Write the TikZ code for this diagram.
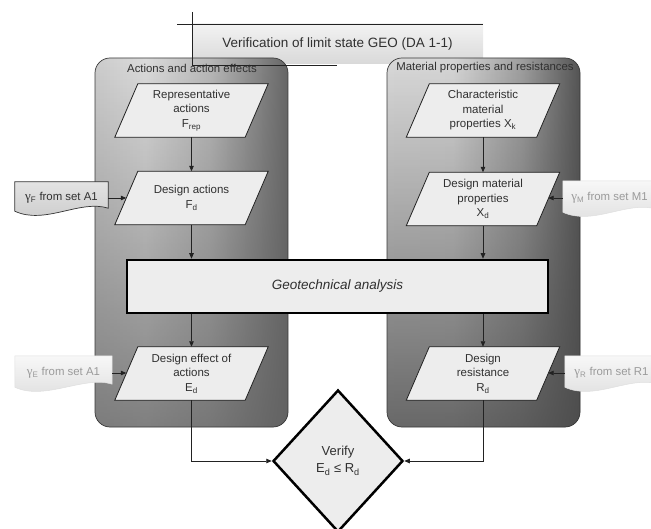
\documentclass[tikz,border=0pt]{standalone}
\usepackage{fontspec}
\setmainfont{Liberation Sans}
\newfontfamily\gfont{Liberation Serif}
\usetikzlibrary{shapes.geometric,arrows.meta,fadings,calc}
\pgfdeclarelayer{bg}\pgfdeclarelayer{mid}\pgfsetlayers{bg,mid,main}
\definecolor{txt}{HTML}{303030}
\definecolor{lnc}{HTML}{222222}
\definecolor{boxfill}{HTML}{EDEDED}
\definecolor{ghosttxt}{HTML}{9A9A9A}
\definecolor{lp0}{gray}{0.80}\definecolor{lp1}{gray}{0.86}\definecolor{lp2}{gray}{0.72}\definecolor{lp3}{gray}{0.40}
\definecolor{rp0}{gray}{0.85}\definecolor{rp1}{gray}{0.84}\definecolor{rp2}{gray}{0.62}\definecolor{rp3}{gray}{0.33}
\definecolor{lovl}{gray}{0.38}\definecolor{rovl}{gray}{0.30}
\pgfdeclarehorizontalshading{lpshade}{100bp}{color(0bp)=(lp0); color(25bp)=(lp0); color(38bp)=(lp1); color(55bp)=(lp2); color(75bp)=(lp3); color(100bp)=(lp3)}
\pgfdeclarehorizontalshading{rpshade}{100bp}{color(0bp)=(rp0); color(25bp)=(rp0); color(42bp)=(rp1); color(60bp)=(rp2); color(75bp)=(rp3); color(100bp)=(rp3)}
\tikzfading[name=downdark, top color=transparent!100, bottom color=transparent!0]
\tikzset{
  para/.style={minimum width=130pt, minimum height=53pt, inner sep=1pt, align=center, text=txt, font=\fontsize{11.5}{14.5}\selectfont},
  parashape/.style={draw=lnc, line width=0.8pt, fill=boxfill},
  arr/.style={draw=lnc, line width=0.8pt, -{Triangle[length=5.5pt,width=4.5pt]}},
  docnode/.style={minimum height=34pt, inner sep=0pt, font=\fontsize{11.4}{13}\selectfont},
  docdark/.style={draw=gray!40!black, line width=0.7pt, top color=gray!22, bottom color=gray!42},
  docghost/.style={draw=gray!25, line width=0.5pt, top color=gray!6, bottom color=gray!26},
  panellabel/.style={text=txt, font=\fontsize{11.4}{13}\selectfont, inner sep=1pt},
  thickbox/.style={draw=black, line width=2.5pt, fill=boxfill, text=txt}
}
\begin{document}
\begin{tikzpicture}[x=1pt,y=-1pt]
\useasboundingbox (0,0) rectangle (651,529);
% nodes
\node[text=txt, font=\fontsize{13.5}{16}\selectfont] (title) at (337.5,44) {Verification of limit state GEO (DA 1-1)};
\node[panellabel] (labA) at (192,68) {Actions and action effects};
\node[panellabel] (labM) at (485,68) {Material properties and resistances};

\node[para] (frep) at (191.5,110.5) {Representative\\actions\\F\textsubscript{rep}};
\node[para] (xk) at (483,110.5) {Characteristic\\material\\properties X\textsubscript{k}};
\node[para] (fd) at (191.5,198) {Design actions\\F\textsubscript{d}};
\node[para] (xd) at (483,199) {Design material\\properties\\X\textsubscript{d}};
\node[thickbox, minimum width=421pt, minimum height=53pt, font=\fontsize{13.5}{16}\selectfont\itshape] (geo) at (337.5,286.5) {Geotechnical analysis};
\node[para] (ed) at (191.5,373.5) {Design effect of\\actions\\E\textsubscript{d}};
\node[para] (rd) at (483,373.5) {Design\\resistance\\R\textsubscript{d}};
\node[thickbox, diamond, minimum width=130pt, minimum height=142pt, inner sep=0pt, align=center, font=\fontsize{13}{17}\selectfont] (ver) at (338,461) {Verify\\E\textsubscript{d} ≤ R\textsubscript{d}};

\node[docnode, minimum width=93pt, minimum height=32pt, text=txt] (gF) at (61.5,198) {{\gfont\fontsize{13}{13}\selectfont γ}\textsubscript{F} from set A1};
\node[docnode, minimum width=93pt, text=ghosttxt] (gM) at (609.5,198) {{\gfont\fontsize{13}{13}\selectfont γ}\textsubscript{M} from set M1};
\node[docnode, minimum width=97pt, text=ghosttxt] (gE) at (63.5,373) {{\gfont\fontsize{13}{13}\selectfont γ}\textsubscript{E} from set A1};
\node[docnode, minimum width=93pt, text=ghosttxt] (gR) at (611.5,373) {{\gfont\fontsize{13}{13}\selectfont γ}\textsubscript{R} from set R1};

% background: title box and panels
\begin{pgfonlayer}{bg}
  \fill[top color=gray!10, bottom color=gray!30] (192,24) rectangle (483,64);
  \draw[lnc, line width=0.8pt] (177,24) -- (483,24);
  \path[shading=lpshade, rounded corners=15pt] (95,58) rectangle (288,427);
  \fill[lovl, path fading=downdark, fill opacity=0.75, rounded corners=15pt] (95,58) rectangle (288,427);
  \draw[gray!45!black, line width=0.7pt, rounded corners=15pt] (95,58) rectangle (288,427);
  \path[shading=rpshade, rounded corners=15pt] (387,58) rectangle (580,427);
  \fill[rovl, path fading=downdark, fill opacity=0.8, rounded corners=15pt] (387,58) rectangle (580,427);
  \draw[gray!45!black, line width=0.7pt, rounded corners=15pt] (387,58) rectangle (580,427);
  \draw[lnc, line width=0.8pt] (192,12) -- (192,65) -- (337,65);
\end{pgfonlayer}

% shapes under text
\begin{pgfonlayer}{mid}
  \foreach \n in {frep,xk,fd,xd,ed,rd}{
    \draw[parashape] ([xshift=-11.5pt]\n.south west) -- ([xshift=11.5pt]\n.north west) -- ([xshift=11.5pt]\n.north east) -- ([xshift=-11.5pt]\n.south east) -- cycle;
  }
  \draw[docdark] (gF.north west) -- (gF.north east) -- ([yshift=6pt]gF.south east)
     .. controls ([shift={(-28pt,15pt)}]gF.south east) and ([shift={(30pt,-11pt)}]gF.south west) .. ([yshift=3pt]gF.south west) -- cycle;
  \foreach \n in {gM,gE,gR}{
    \draw[docghost] (\n.north west) -- (\n.north east) -- ([yshift=6pt]\n.south east)
     .. controls ([shift={(-28pt,15pt)}]\n.south east) and ([shift={(30pt,-11pt)}]\n.south west) .. ([yshift=3pt]\n.south west) -- cycle;
  }
\end{pgfonlayer}

% connectors
\draw[arr] (frep.south) -- (fd.north);
\draw[arr] (xk.south) -- (xd.north);
\draw[arr] (fd.south) -- (fd.south |- geo.north);
\draw[arr] (xd.south) -- (xd.south |- geo.north);
\draw[arr] (ed.north |- geo.south) -- (ed.north);
\draw[arr] (rd.north |- geo.south) -- (rd.north);
\draw[arr] (ed.south) |- (ver.west);
\draw[arr] (rd.south) |- (ver.east);
\draw[arr] (gF.east) -- (gF.east -| fd.west);
\draw[arr] (gM.west) -- (gM.west -| xd.east);
\draw[arr] (gE.east) -- (gE.east -| ed.west);
\draw[arr] (gR.west) -- (gR.west -| rd.east);
\end{tikzpicture}
\end{document}
